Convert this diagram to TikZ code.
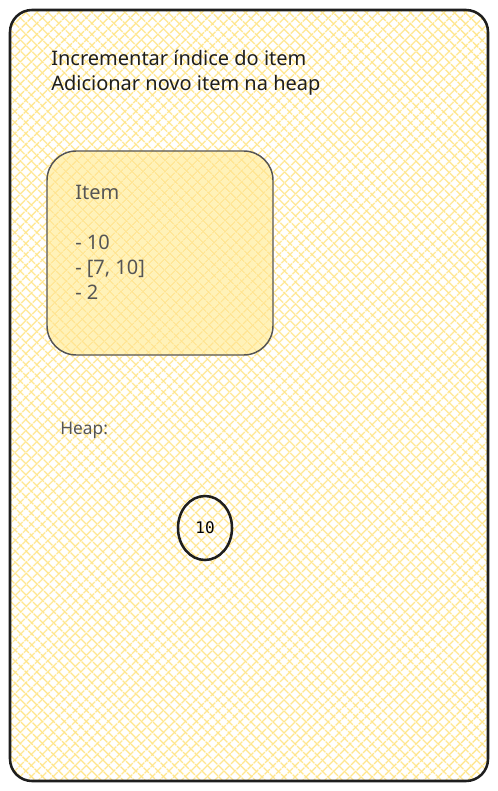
\documentclass[tikz,border=0pt]{standalone}
\usepackage{fontspec}
\setmainfont{Noto Sans}
\setmonofont{DejaVu Sans Mono}
\usetikzlibrary{patterns.meta,shapes.geometric}
\definecolor{hatchyellow}{HTML}{FFE586}
\definecolor{notefill}{HTML}{FFF2B8}
\definecolor{notehatch}{HTML}{FFE48E}
\definecolor{inkdark}{HTML}{1E1E1E}
\definecolor{inkgray}{HTML}{555555}
\tikzset{
  hatchup/.style={pattern={Lines[angle=45,distance=6.5pt,line width=1.3pt]},pattern color=#1},
  hatchdown/.style={pattern={Lines[angle=-45,distance=6.5pt,line width=1.3pt]},pattern color=#1},
  panel/.style={draw=inkdark,line width=1.9pt,rounded corners=16.5pt,
    preaction={fill=white},preaction={hatchup=hatchyellow},hatchdown=hatchyellow},
  notebox/.style={draw=inkgray,line width=1.1pt,rounded corners=22pt,
    preaction={fill=notefill},preaction={hatchup=notehatch},hatchdown=notehatch},
  heapnode/.style={ellipse,draw=inkdark,line width=1.9pt,inner sep=0pt,
    minimum width=40.5pt,minimum height=48pt,font=\ttfamily\fontsize{12}{14}\selectfont},
  handtext/.style={anchor=base west,inner sep=0pt,align=left,
    font=\fontsize{15}{18.75}\selectfont}
}
\begin{document}
\begin{tikzpicture}[x=0.75pt,y=0.75pt,yscale=-1,xscale=1]
% page
\fill[white] (0,0) rectangle (497,791);

% Shapes
\node[panel,minimum width=358.5pt,minimum height=578.25pt] (frame) at (249,395.5) {};
\node[notebox,minimum width=169.5pt,minimum height=153pt] (itembox) at (160,253) {};
\node[heapnode] (heap10) at (205,528) {10};

% Text Node (base = last line)
\node[handtext,text=inkdark] (steps) at (51,91) {Incrementar índice do item\\Adicionar novo item na heap};
% Text Node
\node[handtext,text=inkgray] (itemtext) at (75,300) {Item\\[18.75pt]- 10\\- [7, 10]\\- 2};
% Text Node
\node[handtext,text=inkgray,font=\fontsize{13}{16}\selectfont] (heaplabel) at (60,434) {Heap:};

\end{tikzpicture}
\end{document}
